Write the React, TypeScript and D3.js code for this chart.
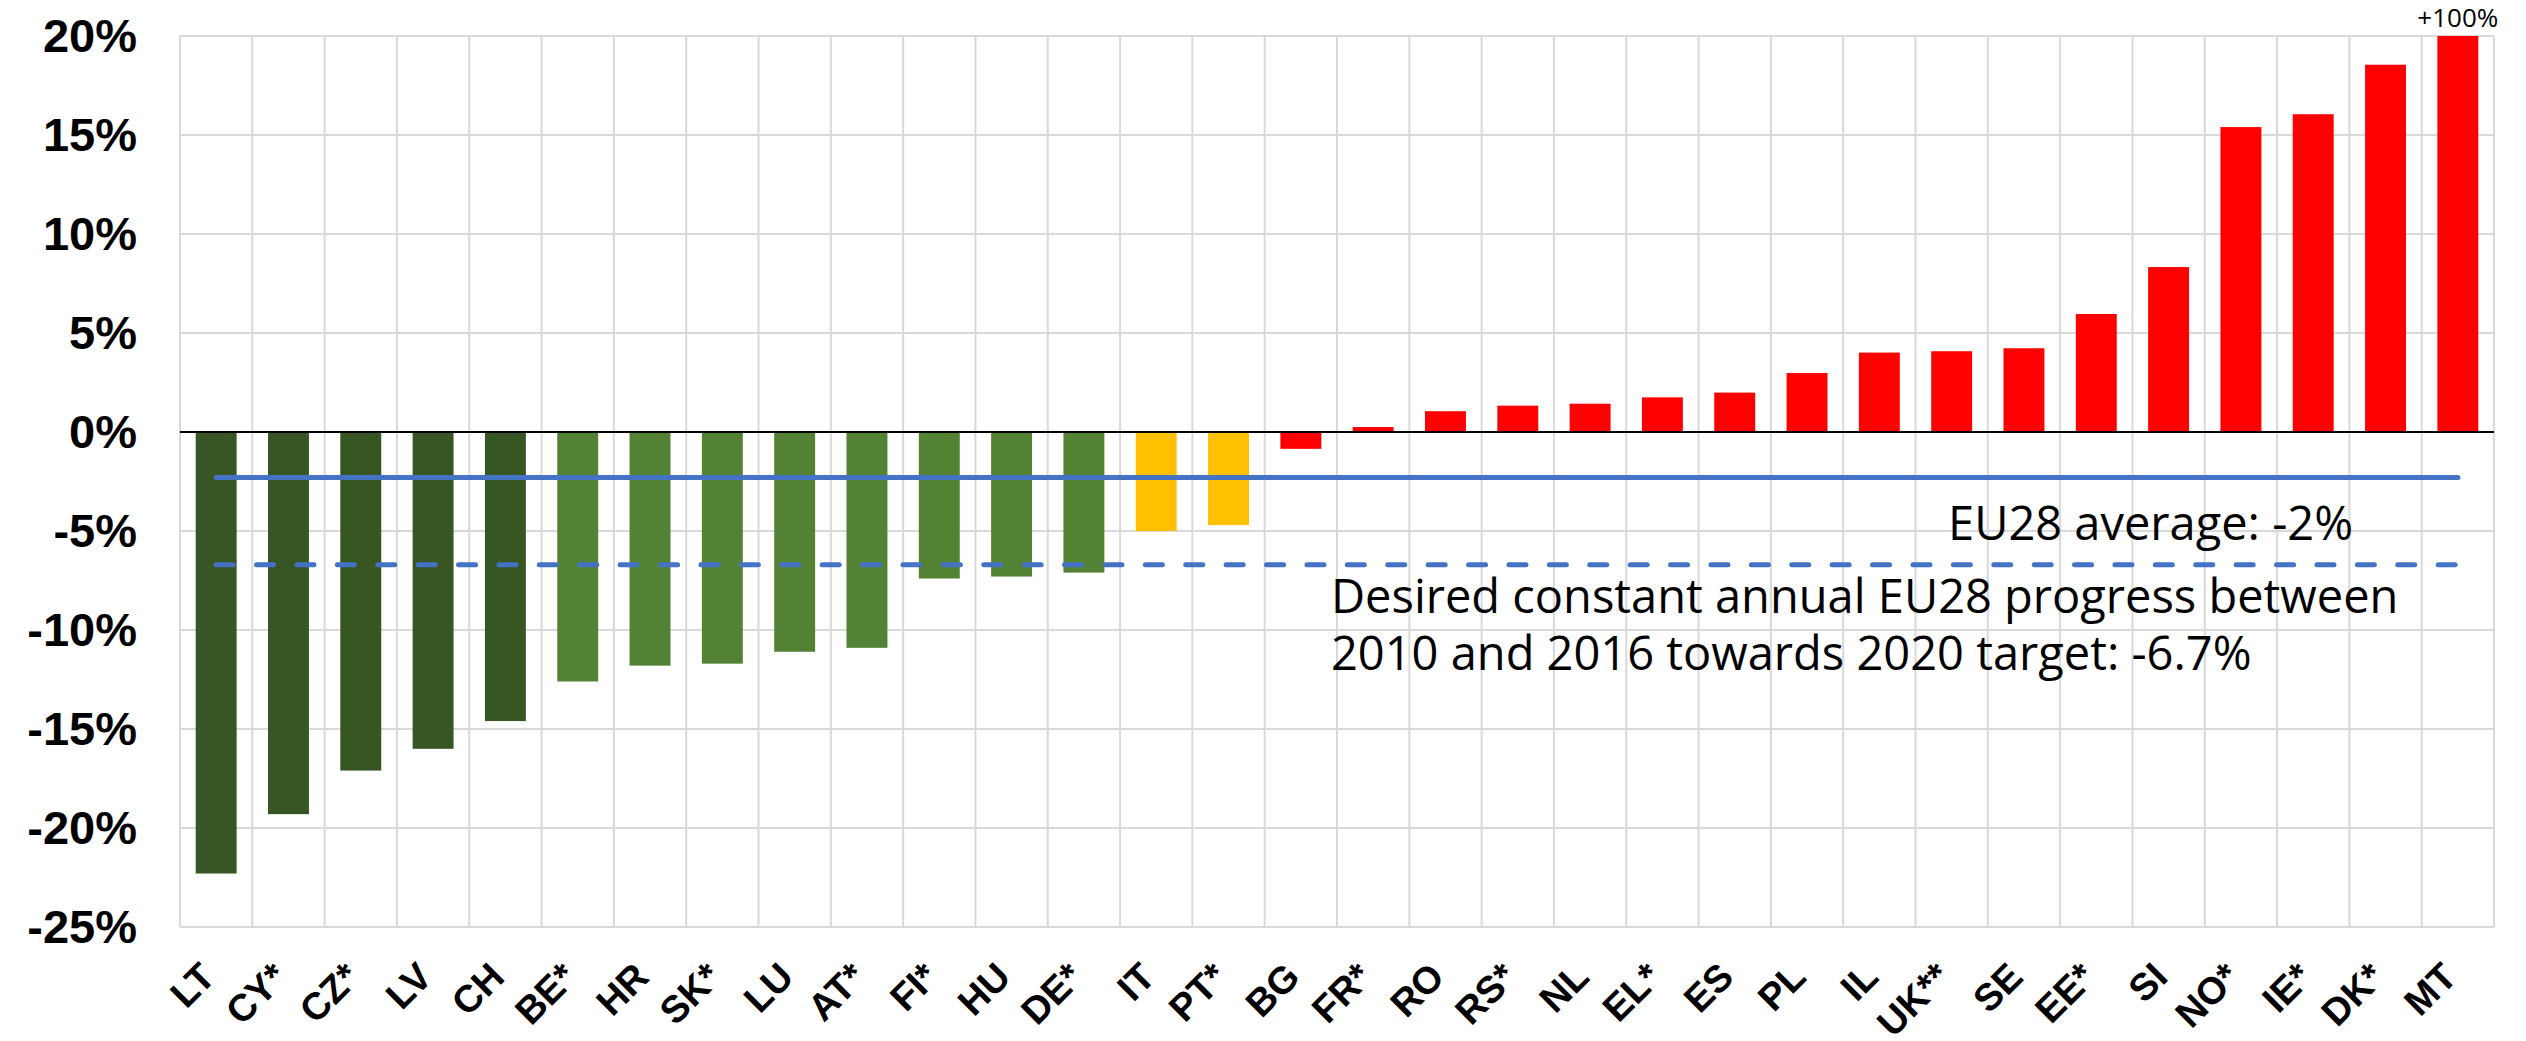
import React, { useEffect, useRef } from 'react';
import * as d3 from 'd3';

// country codes, left to right
const categories = ['LT', 'CY*', 'CZ*', 'LV', 'CH', 'BE*', 'HR', 'SK*', 'LU', 'AT*', 'FI*', 'HU', 'DE*',
    'IT', 'PT*', 'BG', 'FR*', 'RO', 'RS*', 'NL', 'EL*', 'ES', 'PL', 'IL', 'UK**', 'SE', 'EE*', 'SI',
    'NO*', 'IE*', 'DK*', 'MT'];

// change in % (MT is +100%, cut off at the top of the axis)
const changes = [-22.3, -19.3, -17.1, -16.0, -14.6, -12.6, -11.8, -11.7, -11.1, -10.9, -7.4, -7.3, -7.1,
    -5.0, -4.7, -0.85, 0.25, 1.05, 1.33, 1.43, 1.75, 1.99, 2.98, 4.01, 4.08, 4.23, 5.96, 8.33,
    15.4, 16.05, 18.55, 100];

const groups = ['dark', 'dark', 'dark', 'dark', 'dark', 'mid', 'mid', 'mid', 'mid', 'mid', 'mid', 'mid', 'mid',
    'amber', 'amber', 'red', 'red', 'red', 'red', 'red', 'red', 'red', 'red', 'red', 'red', 'red', 'red', 'red',
    'red', 'red', 'red', 'red'];

const yTicks = [-25, -20, -15, -10, -5, 0, 5, 10, 15, 20];

const eu28Average = -2.3;
const eu28Target = -6.7;
const averageLabel = 'EU28 average: -2%';
const targetLabel = ['Desired constant annual EU28 progress between', '2010 and 2016 towards 2020 target: -6.7%'];
const overflowLabel = '+100%';

const colors: Record<string, string> = {
    dark: '#375623',
    mid: '#548235',
    amber: '#FFC000',
    red: '#FF0000',
};

export default function App() {
    const svgRef = useRef<SVGSVGElement>(null);

    useEffect(() => {
        if (!svgRef.current) return;
        const width = 2526;
        const height = 1041;
        const margin = { top: 36, right: 32, bottom: 114, left: 180 };

        const svg = d3.select(svgRef.current);
        svg.selectAll('*').remove();

        const x = d3.scaleBand<string>()
            .domain(categories)
            .range([margin.left, width - margin.right])
            .paddingInner(0.434)
            .paddingOuter(0.217);

        const y = d3.scaleLinear()
            .domain([-25, 20])
            .range([height - margin.bottom, margin.top])
            .clamp(true);

        const step = x.step();
        const left = margin.left;
        const right = width - margin.right;

        // grid
        const grid = svg.append('g').attr('stroke', '#d9d9d9').attr('stroke-width', 2);
        grid.selectAll('line.h')
            .data(yTicks)
            .join('line')
            .attr('x1', left).attr('x2', right)
            .attr('y1', d => y(d)).attr('y2', d => y(d));
        grid.selectAll('line.v')
            .data(d3.range(categories.length + 1))
            .join('line')
            .attr('x1', i => left + i * step).attr('x2', i => left + i * step)
            .attr('y1', y(20)).attr('y2', y(-25));

        // bars
        svg.append('g')
            .selectAll('rect')
            .data(categories)
            .join('rect')
            .attr('x', d => x(d)!)
            .attr('width', x.bandwidth())
            .attr('y', (d, i) => Math.min(y(0), y(changes[i])))
            .attr('height', (d, i) => Math.abs(y(changes[i]) - y(0)))
            .attr('fill', (d, i) => colors[groups[i]]);

        // zero line
        svg.append('line')
            .attr('x1', left).attr('x2', right)
            .attr('y1', y(0)).attr('y2', y(0))
            .attr('stroke', '#000').attr('stroke-width', 2);

        // EU28 lines
        const cx = (d: string) => x(d)! + x.bandwidth() / 2;
        const first = categories[0];
        const last = categories[categories.length - 1];
        svg.append('line')
            .attr('x1', cx(first)).attr('x2', cx(last))
            .attr('y1', y(eu28Average)).attr('y2', y(eu28Average))
            .attr('stroke', '#4472C4').attr('stroke-width', 5)
            .attr('stroke-linecap', 'round');
        svg.append('line')
            .attr('x1', cx(first)).attr('x2', cx(last))
            .attr('y1', y(eu28Target)).attr('y2', y(eu28Target))
            .attr('stroke', '#4472C4').attr('stroke-width', 5)
            .attr('stroke-linecap', 'round')
            .attr('stroke-dasharray', '17,23.4');

        // y axis labels
        svg.append('g')
            .selectAll('text')
            .data(yTicks)
            .join('text')
            .attr('x', 137)
            .attr('y', d => y(d))
            .attr('dy', '0.35em')
            .attr('text-anchor', 'end')
            .attr('font-family', '"Liberation Sans", Arial, sans-serif')
            .attr('font-weight', 'bold')
            .attr('font-size', 47)
            .text(d => `${d}%`);

        // x axis labels
        svg.append('g')
            .selectAll('text')
            .data(categories)
            .join('text')
            .attr('transform', d => `translate(${cx(d) + 1},${y(-25) + 52}) rotate(-45)`)
            .attr('text-anchor', 'end')
            .attr('font-family', '"Liberation Sans", Arial, sans-serif')
            .attr('font-weight', 'bold')
            .attr('font-size', 38)
            .text(d => d);

        // annotations
        const note = svg.append('g')
            .attr('font-family', '"Open Sans", "Noto Sans", sans-serif')
            .attr('fill', '#000');
        note.append('text')
            .attr('x', 2353).attr('y', 540)
            .attr('text-anchor', 'end')
            .attr('font-size', 47)
            .text(averageLabel);
        note.selectAll('text.target')
            .data(targetLabel)
            .join('text')
            .attr('x', 1331)
            .attr('y', (d, i) => 613 + i * 57)
            .attr('font-size', 47)
            .text(d => d);
        note.append('text')
            .attr('x', cx(last)).attr('y', 27)
            .attr('text-anchor', 'middle')
            .attr('font-size', 26)
            .text(overflowLabel);
    }, []);

    return (
        <svg ref={svgRef} width={2526} height={1041}
            style={{ position: 'absolute', left: 0, top: 0, background: '#fff' }} />
    );
}
